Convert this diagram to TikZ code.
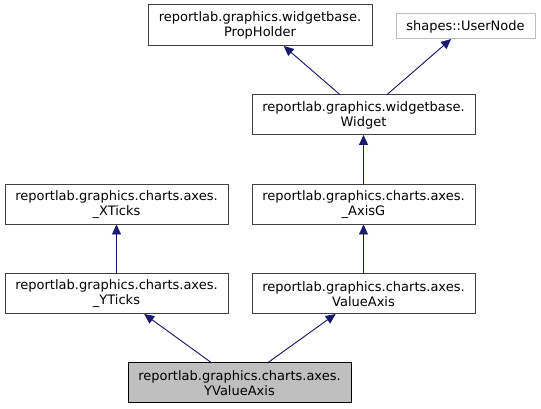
\documentclass[tikz,border=0pt]{standalone}
\usepackage{fontspec}
\setmainfont{DejaVu Sans}
\usetikzlibrary{arrows.meta}
\definecolor{edgeblue}{HTML}{191970}
\definecolor{boxgray}{HTML}{404040}
\definecolor{lightgray}{HTML}{BFBFBF}
\tikzset{
  cls/.style={draw=boxgray, line width=1pt, fill=white, inner sep=0pt, outer sep=0pt,
    align=center, font=\fontsize{13}{15}\selectfont, text=black},
  wide/.style={cls, minimum width=223pt, minimum height=40pt},
  ext/.style={cls, draw=lightgray, minimum width=139pt, minimum height=25pt},
  cur/.style={wide, fill=lightgray, draw=black},
  inh/.style={draw=edgeblue, line width=0.9pt, -{Triangle[length=10pt,width=9pt]}, fill=edgeblue}
}
\begin{document}
\begin{tikzpicture}[x=1pt,y=1pt]
\useasboundingbox (0,0) rectangle (541,409);
\node[wide, minimum width=224pt, minimum height=41pt] (prop) at (260,383.5) {reportlab.graphics.widgetbase.\\PropHolder};
\node[ext] (user) at (465.5,382.5) {shapes::UserNode};
\node[wide] (widget) at (363.5,294) {reportlab.graphics.widgetbase.\\Widget};
\node[wide] (xticks) at (116.5,204.5) {reportlab.graphics.charts.axes.\\\_XTicks};
\node[wide] (axisg) at (363.5,204.5) {reportlab.graphics.charts.axes.\\\_AxisG};
\node[wide] (yticks) at (116.5,115) {reportlab.graphics.charts.axes.\\\_YTicks};
\node[wide] (valueaxis) at (363.5,115) {reportlab.graphics.charts.axes.\\ValueAxis};
\node[cur] (yva) at (239.5,26) {reportlab.graphics.charts.axes.\\YValueAxis};
\draw[inh] (widget) -- (prop);
\draw[inh] (widget) -- (user);
\draw[inh] (axisg) -- (widget);
\draw[inh] (yticks) -- (xticks);
\draw[inh] (valueaxis) -- (axisg);
\draw[inh] (yva) -- (yticks);
\draw[inh] (yva) -- (valueaxis);
\end{tikzpicture}
\end{document}
